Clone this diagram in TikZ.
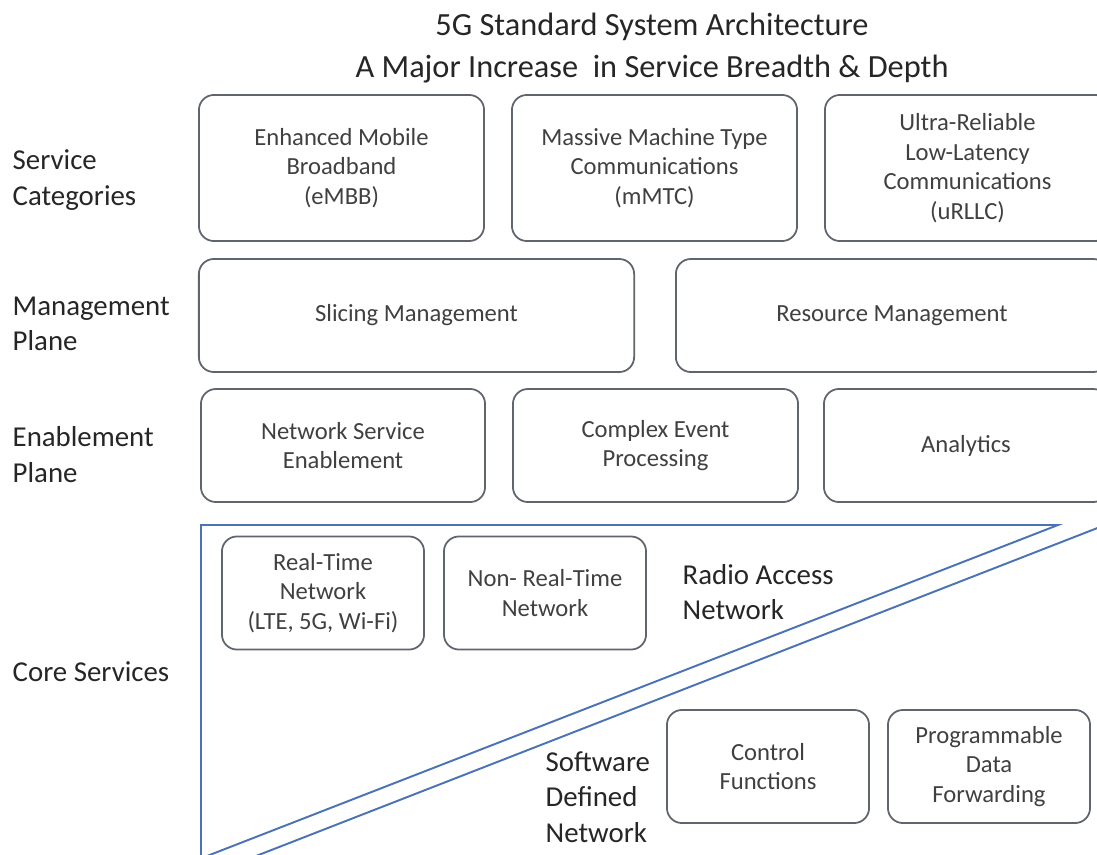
\documentclass[tikz,border=0pt]{standalone}
\usepackage{fontspec}
\setmainfont{Carlito}
\definecolor{boxline}{RGB}{95,100,110}
\definecolor{boxtext}{RGB}{64,64,64}
\definecolor{labeltext}{RGB}{38,38,38}
\definecolor{netline}{RGB}{74,114,180}
\tikzset{
  archbox/.style={draw=boxline, rounded corners=0.15cm, line width=0.5pt, align=center, text=boxtext, inner sep=0pt, font=\fontsize{7}{8.4}\selectfont},
  planelabel/.style={anchor=west, align=left, inner sep=0pt, text=labeltext, font=\fontsize{8.2}{10.1}\selectfont}
}
\begin{document}
\begin{tikzpicture}[x=0.01cm,y=-0.01cm]
\useasboundingbox (0,0) rectangle (1097,854);
\clip (0,0) rectangle (1097,854);
\node[align=center, text=labeltext, font=\fontsize{9.2}{11.9}\selectfont] (title) at (652,48) {5G Standard System Architecture\\A Major Increase\ \ in Service Breadth \& Depth};
\node[planelabel] (servcat) at (12,180) {Service\\Categories};
\node[planelabel] (mgmtplane) at (12,324) {Management\\Plane};
\node[planelabel] (enabplane) at (12,454.5) {Enablement\\Plane};
\node[planelabel] (coreserv) at (12,672) {Core Services};
\node[archbox, minimum width=2.85cm, minimum height=1.46cm] (embb) at (341.5,168) {Enhanced Mobile\\Broadband\\(eMBB)};
\node[archbox, minimum width=2.85cm, minimum height=1.46cm] (mmtc) at (654.5,168) {Massive Machine Type\\Communications\\(mMTC)};
\node[archbox, minimum width=2.85cm, minimum height=1.46cm] (urllc) at (967.5,168) {Ultra-Reliable\\Low-Latency\\Communications\\(uRLLC)};
\node[archbox, minimum width=4.35cm, minimum height=1.13cm] (slicing) at (416.5,315.5) {Slicing Management};
\node[archbox, minimum width=4.32cm, minimum height=1.13cm] (resource) at (892,315.5) {Resource Management};
\node[archbox, minimum width=2.84cm, minimum height=1.13cm] (nse) at (343,445.5) {Network Service\\Enablement};
\node[archbox, minimum width=2.85cm, minimum height=1.13cm] (cep) at (655.5,445.5) {Complex Event\\Processing};
\node[archbox, minimum width=2.84cm, minimum height=1.13cm] (analytics) at (966,445.5) {Analytics};
\draw[netline, line width=0.55pt] (201,860) -- (201,525) -- (1058,525) -- (207,856);
\draw[netline, line width=0.55pt] (1100,527) -- (256,856);
\node[archbox, minimum width=2.02cm, minimum height=1.13cm] (rtnet) at (323,593) {Real-Time\\Network\\(LTE, 5G, Wi-Fi)};
\node[archbox, minimum width=2.02cm, minimum height=1.13cm] (nrtnet) at (545,593) {Non- Real-Time\\Network};
\node[planelabel] (ran) at (682,592) {Radio Access\\Network};
\node[archbox, minimum width=2.02cm, minimum height=1.13cm] (ctrlfn) at (768,766.5) {Control\\Functions};
\node[archbox, minimum width=2.02cm, minimum height=1.13cm] (datafwd) at (989,766.5) {Programmable\\Data\\Forwarding};
\node[planelabel] (sdn) at (545,797) {Software\\Defined\\Network};
\end{tikzpicture}
\end{document}
